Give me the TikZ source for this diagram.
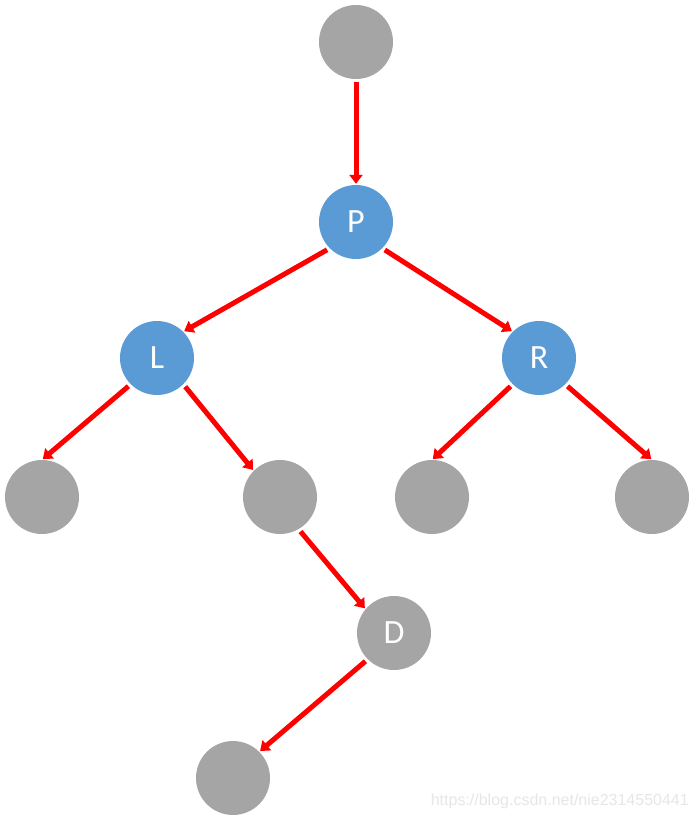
\documentclass[tikz,border=0pt]{standalone}
\usepackage{fontspec}
\setmainfont{Carlito}
\newfontfamily\wmfont{Liberation Sans}
\usetikzlibrary{arrows.meta}
\definecolor{nodegray}{HTML}{A5A5A5}
\definecolor{nodeblue}{HTML}{5B9BD5}
\definecolor{wmgray}{HTML}{E6E6E6}
\begin{document}
\begin{tikzpicture}[x=1pt,y=-1pt,
  gnode/.style={circle,fill=nodegray,minimum size=74pt,inner sep=0pt,text=white,font=\fontsize{34}{40}\selectfont},
  bnode/.style={circle,fill=nodeblue,minimum size=74pt,inner sep=0pt,text=white,font=\fontsize{34}{40}\selectfont},
  edge/.style={draw=red,line width=5pt,-{Triangle[length=9pt,width=13pt]},shorten <=3pt,shorten >=1pt}]
\useasboundingbox (0,0) rectangle (696,820);
\node[gnode] (top) at (356,42) {};
\node[bnode] (P) at (356,222) {P};
\node[bnode] (L) at (157,358) {L};
\node[bnode] (R) at (539,358) {R};
\node[gnode] (LL) at (42,497) {};
\node[gnode] (LR) at (280,497) {};
\node[gnode] (RL) at (432,497) {};
\node[gnode] (RR) at (652,497) {};
\node[gnode] (D) at (394,633) {D};
\node[gnode] (DL) at (233,778) {};
\draw[edge] (top.south) -- (P.north);
\draw[edge] (P.south west) -- (L.north east);
\draw[edge] (P.south east) -- (R.north west);
\draw[edge] (L.south west) -- (LL.north);
\draw[edge] (L.south east) -- (LR.north west);
\draw[edge] (R.south west) -- (RL.north);
\draw[edge] (R.south east) -- (RR.north);
\draw[edge] (LR.300) -- (D.140);
\draw[edge] (D.south west) -- (DL.north east);
\node[anchor=east,text=wmgray,font=\wmfont\fontsize{16}{18}\selectfont,inner sep=0pt] (wm) at (689,801) {https://blog.csdn.net/nie2314550441};
\end{tikzpicture}
\end{document}
